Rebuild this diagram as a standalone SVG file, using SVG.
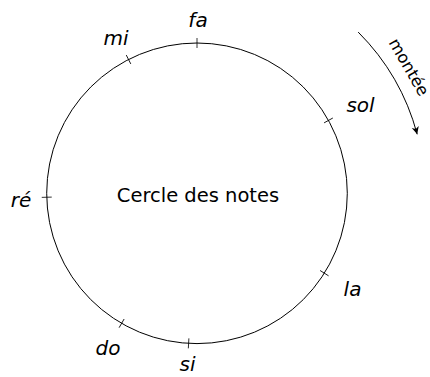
<svg xmlns="http://www.w3.org/2000/svg" width="430" height="377" viewBox="0 0 430 377">
<style>
.ln{fill:none;stroke:#000;stroke-width:1}
.tk{stroke:#000;stroke-width:0.8}
.lb{font-family:"DejaVu Sans",sans-serif;font-style:italic;font-size:20px;fill:#000;text-anchor:middle}
.ct{font-family:"DejaVu Sans",sans-serif;font-size:19.5px;fill:#000;text-anchor:middle}
.mt{font-family:"DejaVu Sans",sans-serif;font-size:16.5px;fill:#000;text-anchor:middle}
</style>
<defs>
<marker id="ah" markerUnits="userSpaceOnUse" markerWidth="12" markerHeight="10" viewBox="-8 -5 10 10" refX="0" refY="0" orient="auto">
<path d="M0,0 L-7.5,-3.6 L-5.5,0 L-7.5,3.6 Z" fill="#000"/>
</marker>
</defs>
<g id="cercle">
<circle class="ln" cx="197" cy="193.3" r="150.3"/>
<text class="ct" x="198" y="202">Cercle des notes</text>
</g>
<g id="fa"><line class="tk" x1="342.3" y1="193.3" x2="352.3" y2="193.3" transform="rotate(-90 197 193.3)"/><text class="lb" x="198" y="27">fa</text></g>
<g id="sol"><line class="tk" x1="342.3" y1="193.3" x2="352.3" y2="193.3" transform="rotate(-29 197 193.3)"/><text class="lb" x="360.5" y="111.5">sol</text></g>
<g id="la"><line class="tk" x1="342.3" y1="193.3" x2="352.3" y2="193.3" transform="rotate(32.1 197 193.3)"/><text class="lb" x="352.5" y="295.5">la</text></g>
<g id="si"><line class="tk" x1="342.3" y1="193.3" x2="352.3" y2="193.3" transform="rotate(93.2 197 193.3)"/><text class="lb" x="187.5" y="371">si</text></g>
<g id="do"><line class="tk" x1="342.3" y1="193.3" x2="352.3" y2="193.3" transform="rotate(120.1 197 193.3)"/><text class="lb" x="108" y="355">do</text></g>
<g id="re"><line class="tk" x1="342.3" y1="193.3" x2="352.3" y2="193.3" transform="rotate(178.5 197 193.3)"/><text class="lb" x="21" y="206.5">ré</text></g>
<g id="mi"><line class="tk" x1="342.3" y1="193.3" x2="352.3" y2="193.3" transform="rotate(-117.1 197 193.3)"/><text class="lb" x="116" y="45">mi</text></g>
<g id="connecteurs">
<path class="ln" d="M358.2,32.1 A228,228 0 0 1 417.2,134.3" marker-end="url(#ah)"/>
<text class="mt" transform="translate(404 69.9) rotate(60)">montée</text>
</g>
</svg>
